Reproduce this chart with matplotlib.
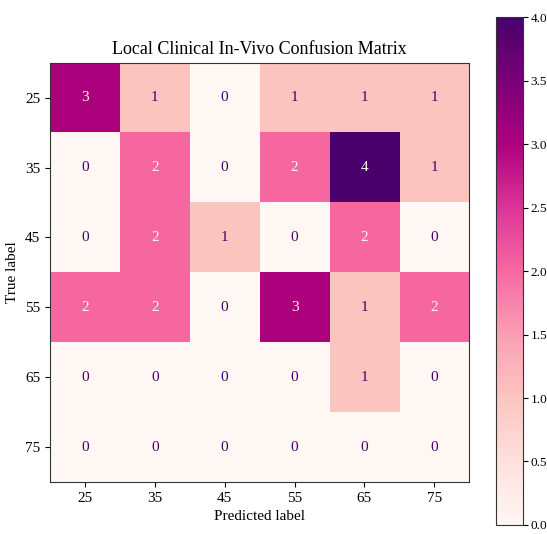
import numpy as np
import matplotlib
matplotlib.use("Agg")
import matplotlib.pyplot as plt

plt.rcParams['font.family'] = ['Liberation Serif', 'DejaVu Serif']

labels = ["25", "35", "45", "55", "65", "75"]
counts = np.array([
    [3, 1, 0, 1, 1, 1],
    [0, 2, 0, 2, 4, 1],
    [0, 2, 1, 0, 2, 0],
    [2, 2, 0, 3, 1, 2],
    [0, 0, 0, 0, 1, 0],
    [0, 0, 0, 0, 0, 0],
])

cmap = plt.get_cmap("RdPu")
fig = plt.figure(figsize=(5.47, 5.34), dpi=100)
ax = fig.add_axes([0.0896, 0.0974, 0.770, 0.785])
cax = fig.add_axes([0.907, 0.0169, 0.049, 0.951])

im = ax.imshow(counts, cmap=cmap, interpolation="nearest", vmin=counts.min(), vmax=counts.max())
thresh = (counts.max() + counts.min()) / 2.0
for i in range(counts.shape[0]):
    for j in range(counts.shape[1]):
        color = cmap(0.0) if counts[i, j] >= thresh else cmap(1.0)
        ax.text(j, i, f"{counts[i, j]}", ha="center", va="center", color=color, fontsize=11)

ax.set_xticks(range(len(labels)))
ax.set_xticklabels(labels)
ax.set_yticks(range(len(labels)))
ax.set_yticklabels(labels)
ax.tick_params(labelsize=11)
ax.set_xlabel("Predicted label", fontsize=11)
ax.set_ylabel("True label", fontsize=11)
ax.set_title("Local Clinical In-Vivo Confusion Matrix", fontsize=13)
for s in ax.spines.values():
    s.set_color("#333333")

cb = fig.colorbar(im, cax=cax)
cb.set_ticks(np.arange(0, 4.01, 0.5))
cb.ax.tick_params(labelsize=9.5, length=3.5, pad=2)
cb.outline.set_edgecolor("#333333")

fig.savefig("out.png", dpi=100)
